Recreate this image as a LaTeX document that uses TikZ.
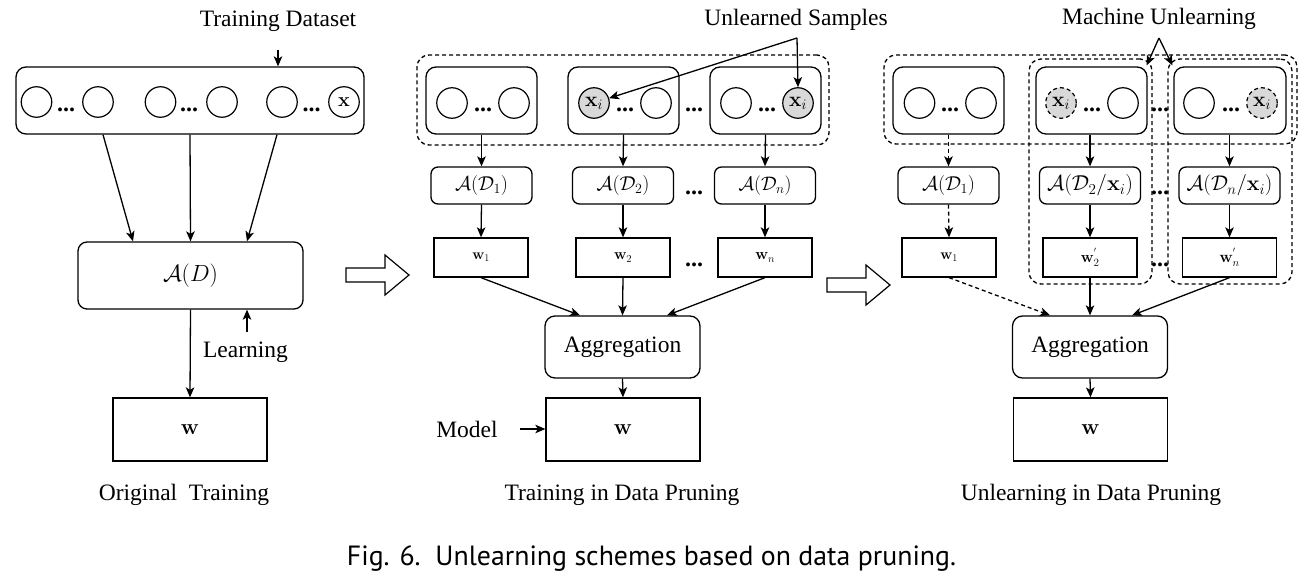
\RequirePackage{fix-cm}
\documentclass[tikz,border=0pt]{standalone}
\usepackage{graphicx}
\usepackage[no-math]{fontspec}
\setmainfont{Liberation Serif}
\newfontfamily\capfont{PT Sans}
\usetikzlibrary{arrows.meta,calc}
\definecolor{sampgray}{HTML}{D9D9D9}
% set a formula at a fixed printed width
\newcommand\fitmath[2]{\resizebox{#1pt}{!}{$#2$}}
\tikzset{
  every node/.style={font=\fontsize{23.5}{28}\selectfont, inner sep=0pt},
  arr/.style={line width=1.3pt, -{Stealth[length=10pt,width=8.5pt,inset=2.5pt]}},
  dsh/.style={dash pattern=on 4pt off 3pt},
  group/.style={draw, line width=1.3pt, rounded corners=10pt},
  sample/.style={draw, circle, line width=1.2pt, minimum size=30.5pt},
  forgot/.style={sample, fill=sampgray},
  abox/.style={draw, line width=1.3pt, rounded corners=7pt, minimum width=101pt, minimum height=37pt},
  wbox/.style={draw, line width=1.3pt, minimum width=94pt, minimum height=39pt},
  bigw/.style={draw, line width=1.3pt, minimum width=154pt, minimum height=63pt},
  aggbox/.style={draw, line width=1.3pt, rounded corners=10pt, minimum width=155pt, minimum height=62pt},
  dots/.style={font=\fontsize{24}{24}\selectfont\bfseries},
  hollow/.style={draw, line width=1.2pt, fill=white},
}
\begin{document}
\begin{tikzpicture}[x=1pt,y=-1pt]
\useasboundingbox (0,0) rectangle (1306,583);

% ---------------- original training ----------------
\node[anchor=base] (ttl1) at (278,27) {Training Dataset};
\node[group, minimum width=348pt, minimum height=67pt] (ds) at (190,100.5) {};
\node[sample] (s1) at (36.5,102) {};
\node[sample] (s2) at (98,102) {};
\node[sample] (s3) at (160.5,102) {};
\node[sample] (s4) at (222,102) {};
\node[sample] (s5) at (282,102) {};
\node[sample] (sx) at (344,102) {\fitmath{11.7}{\mathbf{x}}};
\node[dots] (sd1) at (66,110) {...};
\node[dots] (sd2) at (189,110) {...};
\node[dots] (sd3) at (311.5,110) {...};
\coordinate (ttl1a) at (278,50);
\draw[arr] (ttl1a) -- (ttl1a |- ds.north);

\node[group, rounded corners=9pt, minimum width=225pt, minimum height=67pt] (AD) at (190.5,275.5) {\fitmath{55}{\mathcal{A}(D)}};
\node[bigw] (w0) at (190,429.5) {\fitmath{18.3}{\mathbf{w}}};
\draw[arr] ([xshift=-87pt]ds.south) -- ([xshift=-57.5pt]AD.north);
\draw[arr] (ds.south) -- (AD.north);
\draw[arr] ([xshift=87pt]ds.south) -- ([xshift=56.5pt]AD.north);
\draw[arr] (AD.south) -- (w0.north);
\node[anchor=base] (lrn) at (245.5,357) {Learning};
\coordinate (lrna) at (247,332);
\draw[arr] (lrna) -- (lrna |- AD.south);
\node[anchor=base] (cap1) at (184,500) {Original~~Training};

\draw[hollow] (346,268) -- (385,268) -- (385,255) -- (409,275) -- (385,295) -- (385,282) -- (346,282) -- cycle;

% ---------------- training in data pruning ----------------
\node[anchor=base] (ttl2) at (796,26) {Unlearned Samples};
\node[group, dsh, rounded corners=12pt, minimum width=412pt, minimum height=90pt] (mall) at (623,100) {};
\node[group, minimum width=111pt, minimum height=67pt] (mb1) at (481.5,100.5) {};
\node[group, minimum width=111pt, minimum height=67pt] (mb2) at (623.5,100.5) {};
\node[group, minimum width=111pt, minimum height=67pt] (mb3) at (765.5,100.5) {};
\node[sample] (m1a) at (452,103) {};
\node[sample] (m1b) at (514,103) {};
\node[forgot] (m2x) at (594,103) {\fitmath{17.7}{\mathbf{x}_i}};
\node[sample] (m2b) at (656,103) {};
\node[sample] (m3a) at (736,103) {};
\node[forgot] (m3x) at (798,103) {\fitmath{17.7}{\mathbf{x}_i}};
\node[dots] (md1) at (483,110) {...};
\node[dots] (md2) at (625,110) {...};
\node[dots] (md3) at (767,110) {...};
\node[dots] (md4) at (694,110) {...};
\coordinate (usj) at (797,38);
\draw[arr] (usj) -- (m3x.north);
\draw[arr] (usj) -- (m2x);

\node[abox] (ma1) at (481.5,185.5) {\fitmath{53}{\mathcal{A}(\mathcal{D}_1)}};
\node[abox] (ma2) at (623,185.5) {\fitmath{53}{\mathcal{A}(\mathcal{D}_2)}};
\node[abox] (ma3) at (765,185.5) {\fitmath{53}{\mathcal{A}(\mathcal{D}_n)}};
\node[dots] (mad) at (694,193) {...};
\node[wbox] (mw1) at (481,257.5) {\fitmath{17.3}{\mathbf{w}_1}};
\node[wbox] (mw2) at (623,257.5) {\fitmath{18}{\mathbf{w}_2}};
\node[wbox] (mw3) at (765,257.5) {\fitmath{19.5}{\mathbf{w}_n}};
\node[dots] (mwd) at (694,265) {...};
\draw[arr] (mb1.south) -- (ma1.north);
\draw[arr] (mb2.south) -- (ma2.north);
\draw[arr] (mb3.south) -- (ma3.north);
\draw[arr] (ma1.south) -- (mw1.north);
\draw[arr] (ma2.south) -- (mw2.north);
\draw[arr] (ma3.south) -- (mw3.north);

\node[aggbox] (magg) at (622.5,347) {Aggregation};
\node[bigw] (mw) at (623,429.5) {\fitmath{18.3}{\mathbf{w}}};
\draw[arr] (mw1.south) -- ([xshift=-42.5pt]magg.north);
\draw[arr] (mw2.south) -- (magg.north);
\draw[arr] (mw3.south) -- ([xshift=44.5pt]magg.north);
\draw[arr] (magg.south) -- (mw.north);
\node[anchor=base] (mdl) at (467,437) {Model};
\coordinate (mdla) at (520,429);
\draw[arr] (mdla) -- (mdla -| mw.west);
\node[anchor=base] (cap2) at (622,500) {Training in Data Pruning};

\draw[hollow] (827,278) -- (866,278) -- (866,265) -- (890,285) -- (866,305) -- (866,292) -- (827,292) -- cycle;

% ---------------- unlearning in data pruning ----------------
\node[anchor=base] (ttl3) at (1159,25) {Machine Unlearning};
\node[group, dsh, rounded corners=12pt, minimum width=413pt, minimum height=89pt] (rall) at (1090.5,99.5) {};
\node[group, dsh, rounded corners=12pt, minimum width=123pt, minimum height=225pt] (g2) at (1090.5,171.5) {};
\node[group, dsh, rounded corners=12pt, minimum width=124pt, minimum height=225pt] (g3) at (1230,171.5) {};
\node[group, minimum width=111pt, minimum height=67pt] (rb1) at (948.5,100.5) {};
\node[group, minimum width=111pt, minimum height=67pt] (rb2) at (1091.5,100.5) {};
\node[group, minimum width=112pt, minimum height=67pt] (rb3) at (1230,100.5) {};
\node[sample] (r1a) at (919.5,103) {};
\node[sample] (r1b) at (981,103) {};
\node[forgot, dsh] (r2x) at (1061,103) {\fitmath{17.7}{\mathbf{x}_i}};
\node[sample] (r2b) at (1123,103) {};
\node[sample] (r3a) at (1199,103) {};
\node[forgot, dsh] (r3x) at (1262,103) {\fitmath{17.7}{\mathbf{x}_i}};
\node[dots] (rd1) at (950,110) {...};
\node[dots] (rd2) at (1092,110) {...};
\node[dots] (rd3) at (1231,110) {...};
\node[dots] (rd4) at (1160,110) {...};
\coordinate (muj) at (1159,38);
\draw[arr] (muj) -- ($(g2.north east)+(-6,7)$);
\draw[arr] (muj) -- ($(g3.north west)+(5,7)$);

\node[abox] (ra1) at (948.5,185.5) {\fitmath{53}{\mathcal{A}(\mathcal{D}_1)}};
\node[abox] (ra2) at (1090,185.5) {\fitmath{86}{\mathcal{A}(\mathcal{D}_2/\mathbf{x}_i)}};
\node[abox] (ra3) at (1229.5,185.5) {\fitmath{86}{\mathcal{A}(\mathcal{D}_n/\mathbf{x}_i)}};
\node[dots] (rad) at (1160,193) {...};
\node[wbox] (rw1) at (949,257.5) {\fitmath{17.3}{\mathbf{w}_1}};
\node[wbox] (rw2) at (1090,257.5) {\fitmath{18.5}{\mathbf{w}_2^{'}}};
\node[wbox] (rw3) at (1229.5,257.5) {\fitmath{20}{\mathbf{w}_n^{'}}};
\node[dots] (rwd) at (1160,265) {...};
\draw[arr, dsh] (rb1.south) -- (ra1.north);
\draw[arr] (rb2.south -| ra2.north) -- (ra2.north);
\draw[arr] (rb3.south -| ra3.north) -- (ra3.north);
\draw[arr, dsh] (ra1.south) -- (rw1.north);
\draw[arr] (ra2.south) -- (rw2.north);
\draw[arr] (ra3.south) -- (rw3.north);

\node[aggbox] (ragg) at (1090,347) {Aggregation};
\node[bigw] (rw) at (1090.5,429.5) {\fitmath{18.3}{\mathbf{w}}};
\draw[arr, dsh] (rw1.south) -- ([xshift=-40pt]ragg.north);
\draw[arr] (rw2.south) -- (ragg.north);
\draw[arr] (rw3.south) -- ([xshift=42pt]ragg.north);
\draw[arr] (ragg.south) -- (rw.north);
\node[anchor=base] (cap3) at (1091,500) {Unlearning in Data Pruning};

% ---------------- figure caption ----------------
\node[anchor=base, font=\capfont\fontsize{27.8}{30}\selectfont] (figcap) at (651.5,565) {Fig. 6.\ \ Unlearning schemes based on data pruning.};
\end{tikzpicture}
\end{document}
